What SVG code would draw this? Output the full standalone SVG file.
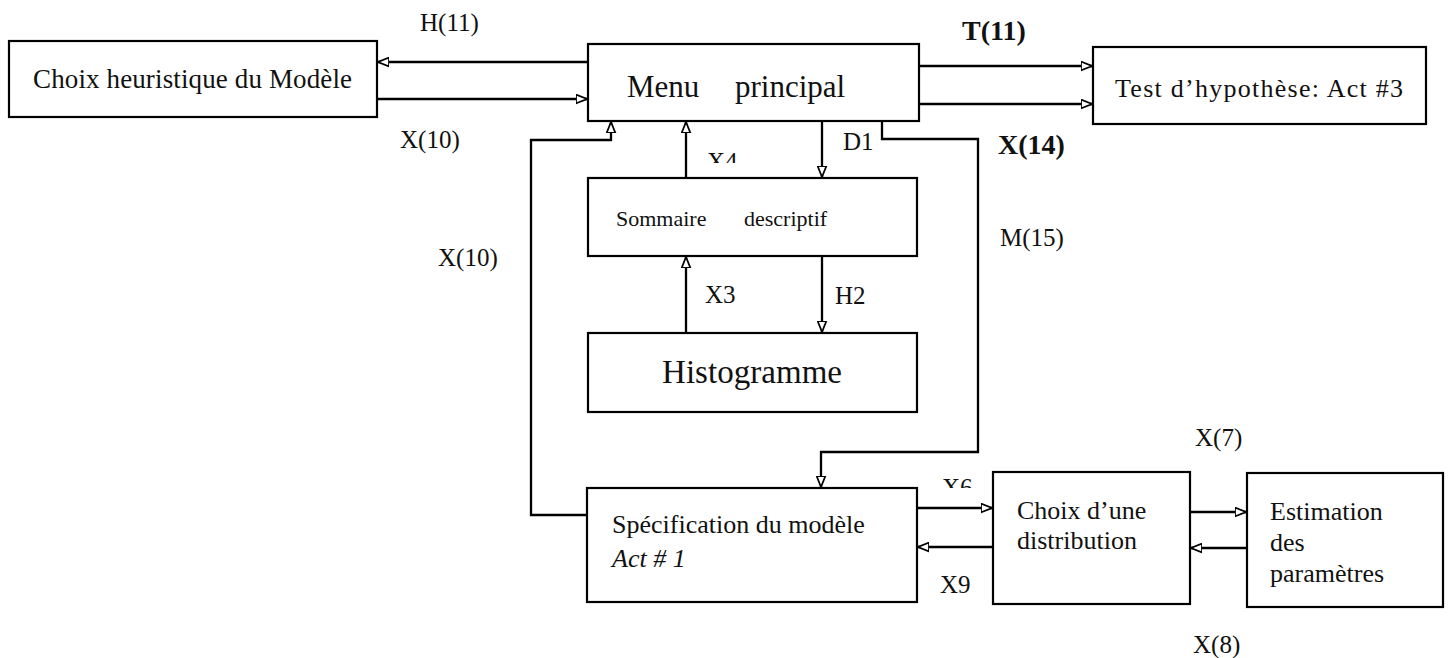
<svg xmlns="http://www.w3.org/2000/svg" width="1448" height="658" viewBox="0 0 1448 658">
<style>
.box{fill:#fff;stroke:#000;stroke-width:2.2}
.t{font-family:"Liberation Serif","Times New Roman",serif;fill:#111}
.c{fill:none;stroke:#000;stroke-width:2.3}
.lb{font-family:"Liberation Serif","Times New Roman",serif;fill:#111;font-size:25px}
.bd{font-weight:bold;font-size:28px}
</style>
<defs>
<marker id="ah" viewBox="0 0 10 10" refX="10" refY="5" markerWidth="11" markerHeight="11" markerUnits="userSpaceOnUse" orient="auto">
<path d="M0,1 L10,5 L0,9 Z" fill="#fff" stroke="#000" stroke-width="1.6"/>
</marker>
<clipPath id="clipX4"><rect x="700" y="140" width="40" height="23"/></clipPath>
<clipPath id="clipX6"><rect x="935" y="465" width="40" height="23"/></clipPath>
</defs>
<rect width="1448" height="658" fill="#fff"/>

<g id="connectors">
<path class="c" d="M588,62 H378" marker-end="url(#ah)"/>
<path class="c" d="M378,99 H587" marker-end="url(#ah)"/>
<path class="c" d="M920,66 H1092" marker-end="url(#ah)"/>
<path class="c" d="M920,104 H1092" marker-end="url(#ah)"/>
<path class="c" d="M587,515 H531 V140 H611 V122" marker-end="url(#ah)"/>
<path class="c" d="M686,178 V122" marker-end="url(#ah)"/>
<path class="c" d="M822,121 V177" marker-end="url(#ah)"/>
<path class="c" d="M882,121 V139 H978 V452 H821 V487" marker-end="url(#ah)"/>
<path class="c" d="M686,333 V257" marker-end="url(#ah)"/>
<path class="c" d="M822,256 V332" marker-end="url(#ah)"/>
<path class="c" d="M917,508 H992" marker-end="url(#ah)"/>
<path class="c" d="M993,547 H918" marker-end="url(#ah)"/>
<path class="c" d="M1190,512 H1246" marker-end="url(#ah)"/>
<path class="c" d="M1247,548 H1191" marker-end="url(#ah)"/>
</g>

<g id="labels">
<text class="lb" x="420" y="31">H(11)</text>
<text class="lb" x="400" y="148">X(10)</text>
<text class="lb bd" x="962" y="40">T(11)</text>
<text class="lb bd" x="998" y="154">X(14)</text>
<text class="lb" x="843" y="150">D1</text>
<text class="lb" x="707" y="170" font-size="22" clip-path="url(#clipX4)">X4</text>
<text class="lb" x="438" y="266">X(10)</text>
<text class="lb" x="1000" y="246" font-size="24">M(15)</text>
<text class="lb" x="705" y="303" font-size="23">X3</text>
<text class="lb" x="835" y="304" font-size="23">H2</text>
<text class="lb" x="942" y="496" font-size="22" clip-path="url(#clipX6)">X6</text>
<text class="lb" x="940" y="593" font-size="23">X9</text>
<text class="lb" x="1195" y="446" font-size="24">X(7)</text>
<text class="lb" x="1193" y="653" font-size="24">X(8)</text>
</g>

<g id="n-choix-heuristique">
<rect class="box" x="9" y="41" width="368" height="76"/>
<text class="t" x="33" y="88" font-size="27" textLength="319">Choix heuristique du  Modèle</text>
</g>

<g id="n-menu">
<rect class="box" x="588" y="44" width="331" height="77"/>
<text class="t" y="97" font-size="31"><tspan x="627">Menu</tspan><tspan x="735">principal</tspan></text>
</g>

<g id="n-test">
<rect class="box" x="1093" y="47" width="333" height="77"/>
<text class="t" x="1115" y="97" font-size="26" textLength="288">Test  d’hypothèse: Act #3</text>
</g>

<g id="n-sommaire">
<rect class="box" x="588" y="178" width="329" height="78"/>
<text class="t" y="226" font-size="22"><tspan x="616">Sommaire</tspan><tspan x="744">descriptif</tspan></text>
</g>

<g id="n-histogramme">
<rect class="box" x="588" y="333" width="329" height="79"/>
<text class="t" x="662" y="383" font-size="33" textLength="180">Histogramme</text>
</g>

<g id="n-specification">
<rect class="box" x="587" y="488" width="330" height="114"/>
<text class="t" x="612" y="533" font-size="26">Spécification du modèle</text>
<text class="t" x="612" y="567" font-size="26" font-style="italic">Act # 1</text>
</g>

<g id="n-distribution">
<rect class="box" x="993" y="472" width="197" height="132"/>
<text class="t" x="1017" y="519" font-size="26">Choix d’une</text>
<text class="t" x="1017" y="549" font-size="26">distribution</text>
</g>

<g id="n-estimation">
<rect class="box" x="1247" y="473" width="196" height="134"/>
<text class="t" x="1270" y="520" font-size="26">Estimation</text>
<text class="t" x="1270" y="551" font-size="26">des</text>
<text class="t" x="1270" y="582" font-size="26">paramètres</text>
</g>
</svg>
